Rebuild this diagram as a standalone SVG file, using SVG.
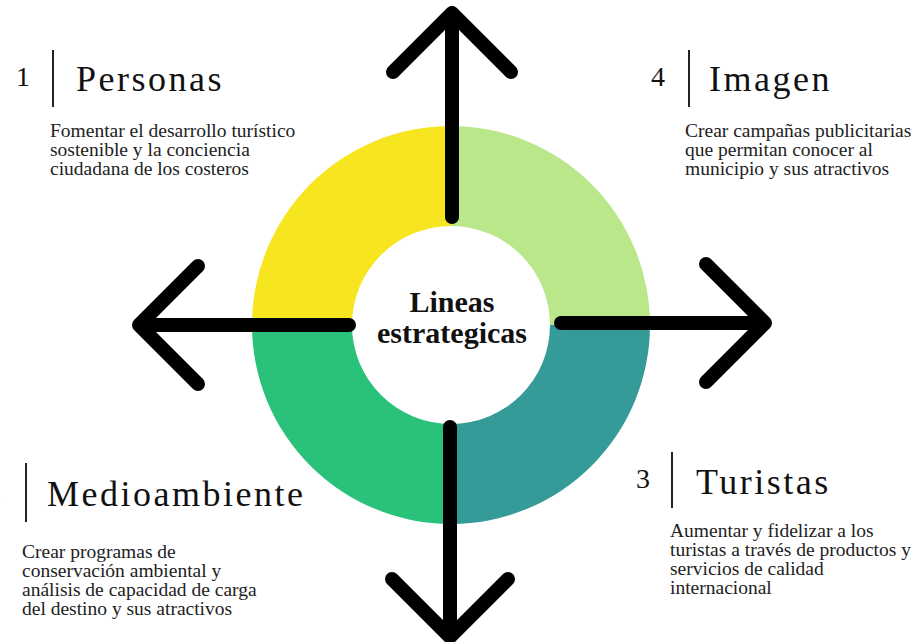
<svg xmlns="http://www.w3.org/2000/svg" width="914" height="642" viewBox="0 0 914 642">
<style>
.num{font-family:"Liberation Serif",serif;font-size:28px;fill:#111}
.head{font-family:"Liberation Serif",serif;font-size:36px;letter-spacing:2.5px;fill:#111}
.desc{font-family:"Liberation Serif",serif;font-size:19.5px;fill:#222}
.bar{stroke:#222;stroke-width:2}
.center{font-family:"Liberation Serif",serif;font-size:30px;font-weight:bold;fill:#111;text-anchor:middle}
.arrow{fill:none;stroke:#000;stroke-width:14;stroke-linecap:round;stroke-linejoin:round}
</style>
<rect width="914" height="642" fill="#fff"/>
<g id="ring">
<path d="M451 126 A199 199 0 0 0 252 325 L352 325 A99 99 0 0 1 451 226 Z" fill="#F6E51F"/>
<path d="M451 126 A199 199 0 0 1 650 325 L550 325 A99 99 0 0 0 451 226 Z" fill="#B9E78A"/>
<path d="M650 325 A199 199 0 0 1 451 524 L451 424 A99 99 0 0 0 550 325 Z" fill="#349B98"/>
<path d="M252 325 A199 199 0 0 0 451 524 L451 424 A99 99 0 0 1 352 325 Z" fill="#2AC27A"/>
</g>
<g id="connectors">
<path class="arrow" d="M452 217 V13 M393 72 L452 13 L511 72"/>
<path class="arrow" d="M349 325 H139 M198 266 L139 325 L198 384"/>
<path class="arrow" d="M561 323 H765 M706 264 L765 323 L706 382"/>
<path class="arrow" d="M450 427 V637 M392 579 L450 637 L508 579"/>
</g>
<g id="center">
<text class="center" x="452" y="312">Lineas</text>
<text class="center" x="452" y="343">estrategicas</text>
</g>
<g id="personas">
<text class="num" x="16" y="86">1</text>
<line class="bar" x1="53" y1="50" x2="53" y2="107"/>
<text class="head" x="76" y="91">Personas</text>
<text class="desc" x="50" y="137">Fomentar el desarrollo turístico</text>
<text class="desc" x="50" y="156">sostenible y la conciencia</text>
<text class="desc" x="50" y="175">ciudadana de los costeros</text>
</g>
<g id="imagen">
<text class="num" x="651" y="86">4</text>
<line class="bar" x1="689" y1="50" x2="689" y2="107"/>
<text class="head" x="709" y="91">Imagen</text>
<text class="desc" x="685" y="137">Crear campañas publicitarias</text>
<text class="desc" x="685" y="156">que permitan conocer al</text>
<text class="desc" x="685" y="175">municipio y sus atractivos</text>
</g>
<g id="medioambiente">
<text class="num" x="-13" y="502">2</text>
<line class="bar" x1="26" y1="463" x2="26" y2="522"/>
<text class="head" x="47" y="506">Medioambiente</text>
<text class="desc" x="22" y="558">Crear programas de</text>
<text class="desc" x="22" y="577">conservación ambiental y</text>
<text class="desc" x="22" y="596">análisis de capacidad de carga</text>
<text class="desc" x="22" y="615">del destino y sus atractivos</text>
</g>
<g id="turistas">
<text class="num" x="636" y="488">3</text>
<line class="bar" x1="672" y1="452" x2="672" y2="508"/>
<text class="head" x="696" y="494">Turistas</text>
<text class="desc" x="670" y="537">Aumentar y fidelizar a los</text>
<text class="desc" x="670" y="556">turistas a través de productos y</text>
<text class="desc" x="670" y="575">servicios de calidad</text>
<text class="desc" x="670" y="594">internacional</text>
</g>
</svg>
